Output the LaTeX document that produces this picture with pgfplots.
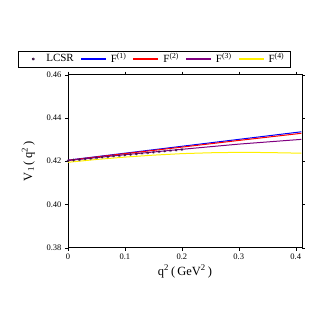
\documentclass[border=0pt]{standalone}
\usepackage{fontspec}
\setmainfont{Liberation Serif}
\usepackage{pgfplots}
\pgfplotsset{compat=1.18}
\definecolor{fpurple}{RGB}{128,0,128}
\definecolor{fyellow}{RGB}{255,240,0}
\definecolor{lcsr}{RGB}{60,20,70}
\pgfplotsset{
  longline/.style={legend image code/.code={\fill[fill=#1] (0pt,-0.35pt) rectangle (24pt,0.35pt);}},
  lcsrimg/.style={legend image code/.code={\path[draw=none] (0pt,0pt)--(19pt,0pt);
    \draw[draw=lcsr] plot[mark=asterisk, mark size=1.4pt, only marks] coordinates {(11pt,0pt)};}},
}

\begin{document}
\begin{tikzpicture}
\begin{axis}[
  scale only axis,
  width=234pt, height=173pt,
  xmin=0, xmax=0.411,
  ymin=0.38, ymax=0.46,
  xtick={0,0.1,0.2,0.3,0.4},
  xticklabels={0,0.1,0.2,0.3,0.4},
  ytick={0.38,0.40,0.42,0.44,0.46},
  yticklabels={0.38,0.40,0.42,0.44,0.46},
  tick align=outside,
  major tick length=3pt,
  tick style={black, thin},
  ticklabel style={font=\fontsize{8.5}{9}\selectfont},
  /pgf/number format/assume math mode=true,
  xlabel={q\textsuperscript{2}\,(\,GeV\textsuperscript{2}\,)},
  ylabel={V\textsubscript{1}\,(\,q\textsuperscript{2}\,)},
  label style={font=\fontsize{12.5}{14}\selectfont},
  xlabel style={yshift=2pt},
  ylabel style={yshift=5pt},
  axis line style={black, line width=0.8pt},
  legend columns=5,
  legend style={at={(-0.2137,1.043)}, anchor=south west,
    draw=black, line width=0.6pt, font=\fontsize{11}{12}\selectfont,
    inner ysep=0.5pt, inner xsep=4pt,
    /tikz/every odd column/.append style={column sep=3pt},
    /tikz/every even column/.append style={column sep=5pt}},
]
\addplot[only marks, mark=asterisk, mark size=1.4pt, color=lcsr, lcsrimg]
  coordinates {
  (0,0.4202) (0.01,0.4205) (0.02,0.4207) (0.03,0.4210) (0.04,0.4212)
  (0.05,0.4215) (0.06,0.4218) (0.07,0.4220) (0.08,0.4223) (0.09,0.4225)
  (0.10,0.4228) (0.11,0.4231) (0.12,0.4233) (0.13,0.4236) (0.14,0.4238)
  (0.15,0.4241) (0.16,0.4244) (0.17,0.4246) (0.18,0.4249) (0.19,0.4251)
  (0.20,0.4254)
  };
\addlegendentry{LCSR}
\addplot[blue, line width=1pt, longline=blue]
  coordinates {(0,0.4205) (0.1,0.4237) (0.2,0.4269) (0.3,0.4301) (0.41,0.4336)};
\addlegendentry{F\textsuperscript{(1)}}
\addplot[red, line width=1pt, longline=red]
  coordinates {(0,0.4204) (0.1,0.4235) (0.2,0.4265) (0.3,0.4296) (0.41,0.4329)};
\addlegendentry{F\textsuperscript{(2)}}
\addplot[fpurple, line width=1pt, longline=fpurple]
  coordinates {(0,0.4203) (0.1,0.4230) (0.2,0.4255) (0.3,0.4279) (0.41,0.4301)};
\addlegendentry{F\textsuperscript{(3)}}
\addplot[fyellow, line width=1pt, longline=fyellow]
  coordinates {(0,0.4195) (0.05,0.4208) (0.1,0.4219) (0.15,0.4228) (0.2,0.4235)
    (0.25,0.4239) (0.3,0.4241) (0.35,0.4240) (0.41,0.4237)};
\addlegendentry{F\textsuperscript{(4)}}
\end{axis}
\path[use as bounding box] (-68pt,-79.3pt) rectangle (259pt,247.7pt);
\end{tikzpicture}
\end{document}
